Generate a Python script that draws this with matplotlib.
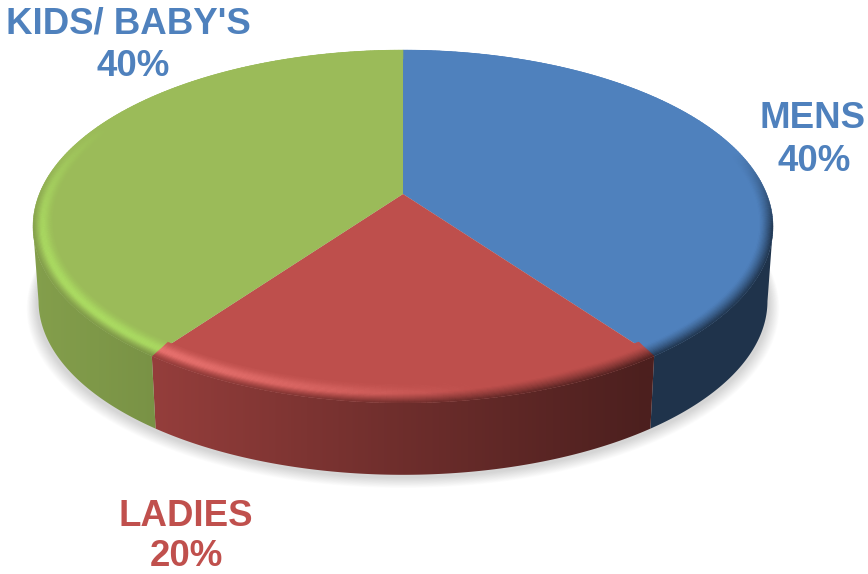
import numpy as np
import matplotlib
matplotlib.use("Agg")
import matplotlib.pyplot as plt
from matplotlib.collections import PolyCollection
from matplotlib.colors import to_rgb
from matplotlib.patches import Polygon

categories = ["MENS", "LADIES", "KIDS/ BABY'S"]
values = [40, 20, 40]
face_colors = ["#4F81BD", "#BE4F4C", "#9BBB59"]
text_colors = ["#4F81BD", "#C0504D", "#4F81BD"]
glow_colors = ["#4F81BD", "#EC7572", "#ABDC62"]
name_xy = [(813, 128), (186, 526), (128, 34)]
value_xy = [(814, 171), (186, 566), (133, 76)]

W, H = 868, 574
CX, Y0, RX, A, K = 403.0, 194.0, 363.7, 170.5, -0.184
DEPTH, SC = 75.0, 0.985


def top(u, v):
    d = 1 + K * v
    return CX + RX * u / d, Y0 + A * v / d


def bottom(u, v, grow=0.0, dy=0.0):
    d = 1 + K * v
    s = SC + grow
    return CX + RX * s * u / d, Y0 + DEPTH + dy + A * s * v / d


def wall_shade(x):
    t = (x - 32) / 740
    return np.interp(t, [0, 0.17, 0.5, 0.83, 1], [0.85, 0.78, 0.58, 0.40, 0.40])


fracs = np.array(values, float) / sum(values)
edges = np.concatenate([[0], np.cumsum(fracs)]) * 2 * np.pi  # clockwise from the back

fig = plt.figure(figsize=(W / 100, H / 100), dpi=100)
ax = fig.add_axes([0, 0, 1, 1])
ax.set_xlim(0, W)
ax.set_ylim(H, 0)
ax.axis("off")

# soft ground shadow
ring = np.linspace(0, 2 * np.pi, 361)
for i in range(14):
    g = 0.002 * (i + 1)
    sx, sy = bottom(np.sin(ring), -np.cos(ring), grow=g + 0.004, dy=2 + 0.35 * i)
    ax.fill(sx, sy, color="black", alpha=0.012, lw=0, zorder=1)

# walls: horizontal gradient clipped to each slice's outer surface, up to the silhouette
xs = np.arange(0, W + 1)
shade = wall_shade(xs)[None, :, None]
for a0, a1, c in zip(edges[:-1], edges[1:], face_colors):
    th = np.linspace(a0, a1, 400)
    th = th[-np.cos(th) >= -K]
    u, v = np.sin(th), -np.cos(th)
    tx, ty = top(u, v)
    bx, by = bottom(u, v)
    poly = np.column_stack([np.r_[tx, bx[::-1]], np.r_[ty, by[::-1]]])
    img = np.clip(np.array(to_rgb(c))[None, None, :] * shade, 0, 1)
    im = ax.imshow(img, extent=(0, W, H, 0), aspect="auto", zorder=2, interpolation="bilinear")
    im.set_clip_path(Polygon(poly, closed=True, transform=ax.transData))
ax.set_xlim(0, W)
ax.set_ylim(H, 0)

# flat slice tops
for a0, a1, c in zip(edges[:-1], edges[1:], face_colors):
    th = np.linspace(a0, a1, 300)
    u = np.concatenate([[0], np.sin(th), [0]])
    v = np.concatenate([[0], -np.cos(th), [0]])
    x, y = top(u, v)
    ax.fill(x, y, color=c, lw=0, zorder=3)

# bevelled rim
quads, cols = [], []
steps = np.linspace(0, 1, 17)
for a0, a1, c, gl in zip(edges[:-1], edges[1:], face_colors, glow_colors):
    n = max(int((a1 - a0) / np.pi * 240), 2)
    th = np.linspace(a0, a1, n + 1)
    base = np.array(to_rgb(c))
    glow = np.array(to_rgb(gl))
    for p, q in zip(th[:-1], th[1:]):
        m = 0.5 * (p + q)
        um, vm = np.sin(m), -np.cos(m)
        light = np.clip((-0.8 * um + 0.6 * vm - 0.45) / 0.55, 0, 1)
        w = np.clip((vm + 0.25) / 0.45, 0, 1)
        xm, _ = top(um, vm)
        wall = base * wall_shade(xm)
        start = np.interp(um, [-0.2, 0.4], [0.6, 0.3])
        for s0, s1 in zip(steps[:-1], steps[1:]):
            s = 0.5 * (s0 + s1)
            bump = np.exp(-((s - 0.5) / 0.33) ** 2)
            col = base + light * bump * (glow - base)
            mix = w * np.clip((s - start) / (1 - start), 0, 1) ** 1.3
            col = col * (1 - mix) + wall * mix
            ru0, rv0 = 0.95 + 0.05 * s0, 0.925 + 0.075 * s0
            ru1, rv1 = 0.95 + 0.05 * s1, 0.925 + 0.075 * s1
            pts = [top(ru0 * np.sin(p), -rv0 * np.cos(p)), top(ru0 * np.sin(q), -rv0 * np.cos(q)),
                   top(ru1 * np.sin(q), -rv1 * np.cos(q)), top(ru1 * np.sin(p), -rv1 * np.cos(p))]
            quads.append(pts)
            cols.append(np.clip(col, 0, 1))
ax.add_collection(PolyCollection(quads, facecolors=cols, edgecolors=cols, linewidths=0.3, zorder=4))

# labels
for cat, val, col, (nx, ny), (vx, vy) in zip(categories, values, text_colors, name_xy, value_xy):
    for txt, x, y in ((cat, nx, ny), (f"{val}%", vx, vy)):
        ax.text(x, y, txt, color=col, ha="center", va="baseline",
                fontfamily="Liberation Sans", fontweight="bold", fontsize=26.4, zorder=6)

fig.savefig("out.png", dpi=100)
